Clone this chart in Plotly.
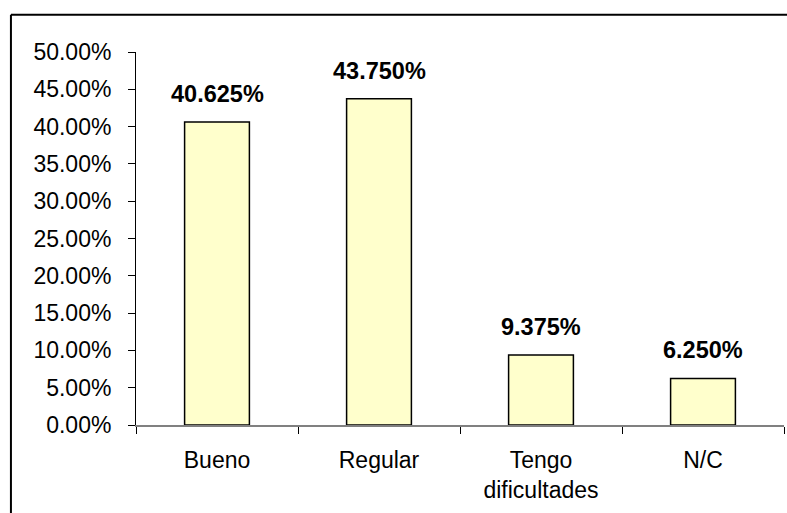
import plotly.graph_objects as go

categories = ["Bueno", "Regular", "Tengo<br>dificultades", "N/C"]
values = [0.40625, 0.43750, 0.09375, 0.06250]
label_texts = ["40.625%", "43.750%", "9.375%", "6.250%"]
y_ticks = [0, 0.05, 0.10, 0.15, 0.20, 0.25, 0.30, 0.35, 0.40, 0.45, 0.50]

FONT = "Liberation Sans, Arial, sans-serif"

fig = go.Figure()
fig.add_trace(go.Bar(
    x=categories, y=values,
    marker=dict(color="#FFFFCC", line=dict(color="black", width=1.5)),
    width=0.4,
    hoverinfo="skip",
))

for c, v, t in zip(categories, values, label_texts):
    fig.add_annotation(x=c, y=v, text="<b>%s</b>" % t, showarrow=False,
                       yanchor="middle", yshift=28,
                       font=dict(family=FONT, size=23.5, color="black"))

# outer frame (top and left edges visible)
fig.add_shape(type="line", xref="paper", yref="paper", x0=-0.193, x1=1.2, y0=1.1, y1=1.1,
              line=dict(color="black", width=2))
fig.add_shape(type="line", xref="paper", yref="paper", x0=-0.193, x1=-0.193, y0=-0.4, y1=1.1,
              line=dict(color="black", width=2))

fig.update_layout(
    width=787, height=513,
    margin=dict(l=136, r=3, t=52, b=88),
    paper_bgcolor="white", plot_bgcolor="white",
    showlegend=False,
    font=dict(family=FONT, size=23, color="black"),
    xaxis=dict(
        type="category", tickson="boundaries", ticks="outside", ticklen=7,
        tickcolor="black", showline=True, linecolor="#808080", linewidth=1.5,
        showgrid=False, zeroline=False, ticklabelstandoff=14,
        tickfont=dict(family=FONT, size=23, color="black"),
    ),
    yaxis=dict(
        range=[0, 0.5], tickvals=y_ticks, tickformat=".2%", ticks="outside", ticklen=7,
        tickcolor="black", showline=True, linecolor="black", linewidth=1,
        showgrid=False, zeroline=False, ticklabelstandoff=12,
        tickfont=dict(family=FONT, size=23, color="black"),
    ),
)

fig.write_html("out.html", config={"displayModeBar": False},
               post_script="document.body.style.margin='0';document.body.style.overflow='hidden';")
